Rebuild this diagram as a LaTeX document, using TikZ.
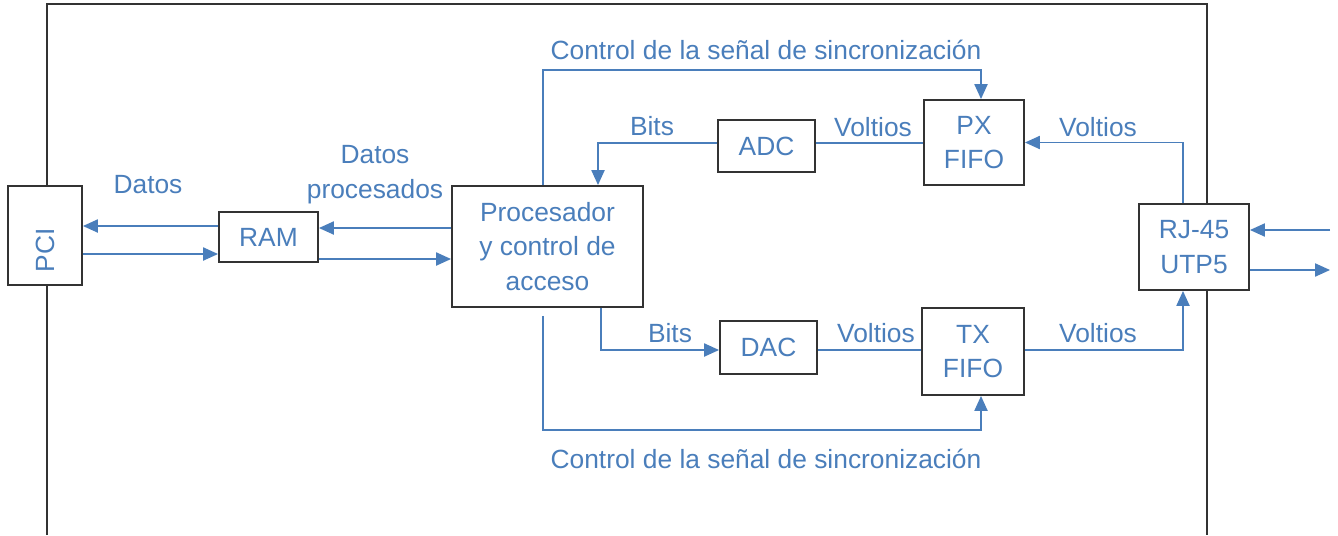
\documentclass[tikz,border=0pt]{standalone}
\usepackage{fontspec}
\setmainfont{Liberation Sans}
\usetikzlibrary{arrows.meta}
\definecolor{azul}{HTML}{4A7EBB}
\definecolor{borde}{HTML}{333333}

\begin{document}
\begin{tikzpicture}[
rectBlock/.style={rectangle, draw=borde, fill=white, line width=1.1pt, text=azul, inner sep=0pt, align=center, font=\fontsize{15}{19.8}\selectfont},
rectText/.style={text=azul, inner sep=0pt, align=center, font=\fontsize{15}{19.8}\selectfont},
lineSig/.style={draw=azul, line width=0.85pt},
arrSig/.style={draw=azul, line width=0.85pt, -{Triangle[length=8.5pt,width=7.5pt]}}]

\useasboundingbox (0,0) rectangle (26.76,-10.7);

% marco exterior
\draw[borde, line width=1.1pt] (0.94,-10.7) -- (0.94,-0.08) -- (24.14,-0.08) -- (24.14,-10.7);

\coordinate (ctlTop) at (0,-1.4);
\coordinate (ctlBot) at (0,-8.6);
\coordinate (extIn) at (26.6,-4.6);
\coordinate (extOut) at (26.6,-5.4);

\node[rectBlock, minimum width=1.48cm, minimum height=1.98cm] (pci) at (0.90,-4.71) {\rotatebox{90}{PCI\hspace{17pt}}};
\node[rectBlock, minimum width=1.98cm, minimum height=1.0cm] (ram) at (5.37,-4.74) {RAM};
\node[rectBlock, minimum width=3.82cm, minimum height=2.42cm] (proc) at (10.95,-4.93) {Procesador\\y control de\\acceso};

\node[rectBlock, minimum width=1.94cm, minimum height=1.04cm] (adc) at (15.33,-2.92) {ADC};
\node[rectBlock, minimum width=2.0cm, minimum height=1.7cm] (pxfifo) at (19.48,-2.85) {PX\\FIFO};
\node[rectBlock, minimum width=1.94cm, minimum height=1.06cm] (dac) at (15.37,-6.95) {DAC};
\node[rectBlock, minimum width=2.04cm, minimum height=1.74cm] (txfifo) at (19.46,-7.03) {TX\\FIFO};
\node[rectBlock, minimum width=2.2cm, minimum height=1.72cm] (rj) at (23.88,-4.94) {RJ-45\\UTP5};

\node[rectText] (lblDatos) at (2.96,-3.7) {Datos};
\node[rectText] (lblProc) at (7.5,-3.49) {Datos\\procesados};
\node[rectText] (lblCtlTop) at (15.32,-1.0) {Control de la señal de sincronización};
\node[rectText] (lblBitsA) at (13.04,-2.52) {Bits};
\node[rectText] (lblVoltA) at (17.46,-2.54) {Voltios};
\node[rectText] (lblVoltB) at (21.96,-2.54) {Voltios};
\node[rectText] (lblBitsB) at (13.4,-6.66) {Bits};
\node[rectText] (lblVoltC) at (17.52,-6.66) {Voltios};
\node[rectText] (lblVoltD) at (21.96,-6.66) {Voltios};
\node[rectText] (lblCtlBot) at (15.32,-9.18) {Control de la señal de sincronización};

% PCI <-> RAM <-> procesador
\draw[arrSig] ([yshift=2.2mm]ram.west) -- ([yshift=2.2mm]ram.west -| pci.east);
\draw[arrSig] ([yshift=-3.4mm]ram.west -| pci.east) -- ([yshift=-3.4mm]ram.west);
\draw[arrSig] ([yshift=1.8mm]ram.east -| proc.west) -- ([yshift=1.8mm]ram.east);
\draw[arrSig] ([yshift=-4.4mm]ram.east) -- ([yshift=-4.4mm]ram.east -| proc.west);

% rama de recepcion
\draw[arrSig] ([xshift=-0.9mm]proc.north) |- ([xshift=1.4mm]pxfifo.north |- ctlTop) -- ([xshift=1.4mm]pxfifo.north);
\draw[arrSig] ([yshift=0.6mm]adc.west) -| ([xshift=10.1mm]proc.north);
\draw[lineSig] ([yshift=0.6mm]adc.east) -- ([yshift=0.6mm]adc.east -| pxfifo.west);
\draw[arrSig] ([xshift=-2.2mm]rj.north) |- (pxfifo.east);

% rama de transmision
\draw[arrSig] ([xshift=10.7mm]proc.south) |- ([yshift=-0.5mm]dac.west);
\draw[lineSig] ([yshift=-0.5mm]dac.east) -- ([yshift=-0.5mm]dac.east -| txfifo.west);
\draw[arrSig] ([yshift=0.3mm]txfifo.east) -| ([xshift=-2.2mm]rj.south);
\draw[arrSig] ([xshift=-0.9mm,yshift=-1.6mm]proc.south) |- ([xshift=1.6mm]txfifo.south |- ctlBot) -- ([xshift=1.6mm]txfifo.south);

% linea externa
\draw[arrSig] (extIn) -- (extIn -| rj.east);
\draw[arrSig] (extOut -| rj.east) -- (extOut);

\end{tikzpicture}
\end{document}
